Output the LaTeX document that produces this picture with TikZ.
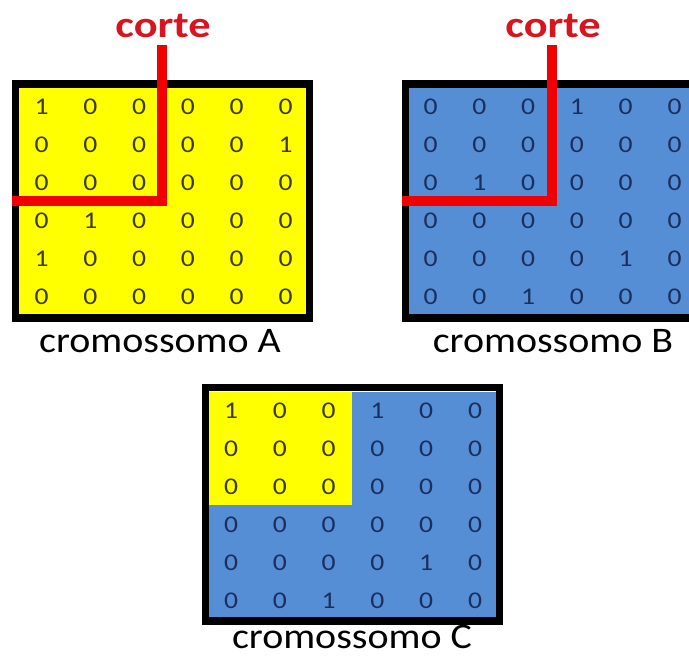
\documentclass[tikz,border=0pt]{standalone}
\usepackage{fontspec}
\usepackage{graphicx}
\setmainfont[Numbers=Lining]{Carlito}
\definecolor{cellyellow}{HTML}{FFFF00}
\definecolor{cellblue}{HTML}{558ED5}
\definecolor{cutred}{HTML}{F00000}
\definecolor{cortered}{HTML}{D8141E}
\definecolor{digonyellow}{HTML}{3C3C14}
\definecolor{digonblue}{HTML}{1B2F5E}
\begin{document}
\begin{tikzpicture}[x=1pt,y=-1pt,
  box/.style={draw=black,line width=7.5pt},
  cut/.style={draw=cutred,line width=10pt,line join=miter,line cap=butt},
  digit/.style={inner sep=0pt,anchor=center,font=\fontsize{24}{26}\selectfont},
  label/.style={inner sep=0pt,anchor=base,font=\fontsize{36}{40}\selectfont},
  cortelbl/.style={inner sep=0pt,anchor=base,text=cortered,font=\fontsize{37}{40}\selectfont\bfseries}]
\useasboundingbox (0,0) rectangle (689,657);
\fill[white] (0,0) rectangle (689,657);
% boxes
\path[box,fill=cellyellow] (15.5,84) rectangle (309.5,318);
\path[box,fill=cellblue] (405.5,84) rectangle (702,318);
\fill[cellblue] (209,392) rectangle (496,617);
\fill[cellyellow] (209,392) rectangle (352,505);
\path[box] (205.5,387.5) rectangle (499.5,621);
% digits A
\foreach \row [count=\j from 0] in {{1,0,0,0,0,0},{0,0,0,0,0,1},{0,0,0,0,0,0},{0,1,0,0,0,0},{1,0,0,0,0,0},{0,0,0,0,0,0}}{
  \foreach \v [count=\i from 0] in \row {
    \node[digit,text=digonyellow] (a-\j-\i) at ({163.5+(\i-2.5)*48.8},{202+(\j-2.5)*38}) {\scalebox{1.15}[1]{\v}};
  }
}
% digits B
\foreach \row [count=\j from 0] in {{0,0,0,1,0,0},{0,0,0,0,0,0},{0,1,0,0,0,0},{0,0,0,0,0,0},{0,0,0,0,1,0},{0,0,1,0,0,0}}{
  \foreach \v [count=\i from 0] in \row {
    \node[digit,text=digonblue] (b-\j-\i) at ({552.5+(\i-2.5)*48.8},{202+(\j-2.5)*38}) {\scalebox{1.15}[1]{\v}};
  }
}
% digits C
\foreach \row [count=\j from 0] in {{1,0,0,1,0,0},{0,0,0,0,0,0},{0,0,0,0,0,0},{0,0,0,0,0,0},{0,0,0,0,1,0},{0,0,1,0,0,0}}{
  \foreach \v [count=\i from 0] in \row {
    \pgfmathtruncatemacro\isyel{and(\i<3,\j<3)}
    \ifnum\isyel=1 \def\dcol{digonyellow}\else \def\dcol{digonblue}\fi
    \node[digit,text=\dcol] (c-\j-\i) at ({353+(\i-2.5)*48.8},{506+(\j-2.5)*38}) {\scalebox{1.15}[1]{\v}};
  }
}
% cut lines
\coordinate (cutAtop) at (162,45);
\coordinate (cutAcorner) at (162,201);
\coordinate (cutAleft) at (12,201);
\coordinate (cutBtop) at (552,45);
\coordinate (cutBcorner) at (552,201);
\coordinate (cutBleft) at (402,201);
\draw[cut] (cutAtop) -- (cutAcorner) -- (cutAleft);
\draw[cut] (cutBtop) -- (cutBcorner) -- (cutBleft);
% labels
\node[cortelbl] (corteA) at (163,37) {\scalebox{1.2}[1]{corte}};
\node[cortelbl] (corteB) at (553,37) {\scalebox{1.2}[1]{corte}};
\node[label] (labA) at (160,352) {\scalebox{1.11}[1]{cromossomo A}};
\node[label] (labB) at (553,352) {\scalebox{1.11}[1]{cromossomo B}};
\node[label] (labC) at (352,648) {\scalebox{1.11}[1]{cromossomo C}};
\end{tikzpicture}
\end{document}
